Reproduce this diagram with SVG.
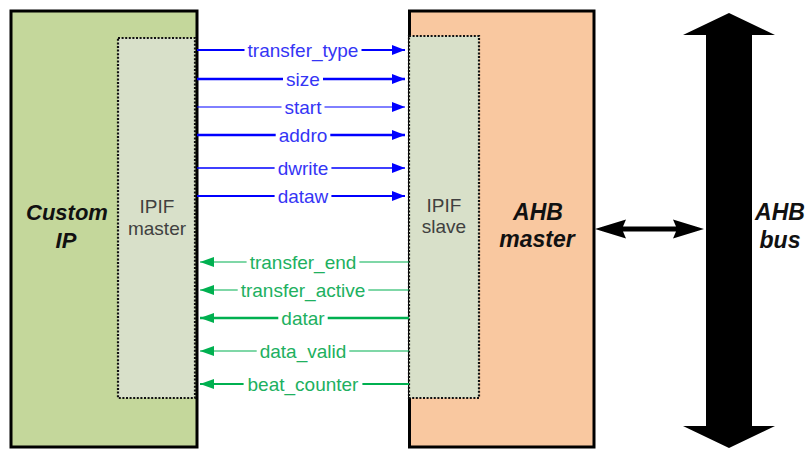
<svg xmlns="http://www.w3.org/2000/svg" width="806" height="449" viewBox="0 0 806 449">
<defs>
<style>
.box{stroke:#000;stroke-width:3}
.inner{fill:#d8e0c9;stroke:#111;stroke-width:2.2;stroke-dasharray:2 1.6}
.title{font-family:"Liberation Sans",Arial,sans-serif;font-weight:bold;font-style:italic;font-size:22px;fill:#111;text-anchor:middle}
.sub{font-family:"Liberation Sans",Arial,sans-serif;font-size:19px;fill:#404040;text-anchor:middle}
.lbl{font-family:"Liberation Sans",Arial,sans-serif;font-size:19px;text-anchor:middle}
.b{stroke:#0000ff;fill:none}
.g{stroke:#00b050;fill:none}
.bt{fill:#3535f5}
.gt{fill:#20b060}
</style>
<marker id="ab" markerUnits="userSpaceOnUse" markerWidth="14" markerHeight="11" refX="13" refY="5" orient="auto"><path d="M0,0 L13,5 L0,10 z" fill="#0000ff"/></marker>
<marker id="ag" markerUnits="userSpaceOnUse" markerWidth="15" markerHeight="11" refX="14" refY="5" orient="auto"><path d="M0,0 L14,5 L0,10 z" fill="#00b050"/></marker>
</defs>
<rect width="806" height="449" fill="#fff"/>

<g id="custom-ip">
<rect class="box" x="11" y="11" width="186" height="436" fill="#c4d79b"/>
<text class="title" x="67" y="220">Custom</text>
<text class="title" x="66" y="248">IP</text>
</g>
<g id="ipif-master">
<rect class="inner" x="118" y="38" width="77" height="360"/>
<text class="sub" x="157" y="213">IPIF</text>
<text class="sub" x="157" y="235">master</text>
</g>
<g id="ahb-master">
<rect class="box" x="409.5" y="11" width="184.5" height="436" fill="#f9c8a0"/>
<text class="title" x="538" y="220" style="font-size:23px">AHB</text>
<text class="title" x="537" y="247" style="font-size:23px">master</text>
</g>
<g id="ipif-slave">
<rect class="inner" x="409" y="36" width="70" height="362"/>
<text class="sub" x="444" y="212">IPIF</text>
<text class="sub" x="444" y="233">slave</text>
</g>
<g id="ahb-bus">
<polygon points="729,13 775,35 752,35 752,426 775,426 729,448 683,426 706,426 706,35 683,35" fill="#000"/>
<text class="title" x="780" y="220" style="font-size:23px">AHB</text>
<text class="title" x="780" y="248" style="font-size:23px">bus</text>
</g>

<g id="connectors">
<path class="b" stroke-width="2" d="M197,50 H244.5 M361.5,50 H405" marker-end="url(#ab)"/>
<path class="b" stroke-width="2.6" d="M197,79 H283 M323,79 H405" marker-end="url(#ab)"/>
<path class="b" stroke-width="1" d="M197,107 H281.5 M324.5,107 H405" marker-end="url(#ab)"/>
<path class="b" stroke-width="2.6" d="M197,135 H275.7 M330.3,135 H405" marker-end="url(#ab)"/>
<path class="b" stroke-width="1.6" d="M197,168 H274.6 M331.4,168 H405" marker-end="url(#ab)"/>
<path class="b" stroke-width="2" d="M197,196 H274.6 M331.4,196 H405" marker-end="url(#ab)"/>

<path class="g" stroke-width="1.2" d="M409,262 H359.4 M246.6,262 H200" marker-end="url(#ag)"/>
<path class="g" stroke-width="1.2" d="M409,290 H368.3 M237.7,290 H200" marker-end="url(#ag)"/>
<path class="g" stroke-width="2.6" d="M409,318 H327.7 M278.3,318 H200" marker-end="url(#ag)"/>
<path class="g" stroke-width="1.2" d="M409,351 H349.3 M256.7,351 H200" marker-end="url(#ag)"/>
<path class="g" stroke-width="2" d="M409,384 H362.4 M243.6,384 H200" marker-end="url(#ag)"/>

<text class="lbl bt" x="303" y="57">transfer_type</text>
<text class="lbl bt" x="303" y="86">size</text>
<text class="lbl bt" x="303" y="114">start</text>
<text class="lbl bt" x="303" y="142">addro</text>
<text class="lbl bt" x="303" y="175">dwrite</text>
<text class="lbl bt" x="303" y="203">dataw</text>

<text class="lbl gt" x="303" y="269">transfer_end</text>
<text class="lbl gt" x="303" y="297">transfer_active</text>
<text class="lbl gt" x="303" y="325">datar</text>
<text class="lbl gt" x="303" y="358">data_valid</text>
<text class="lbl gt" x="303" y="391">beat_counter</text>

<polygon id="ahb-link" points="595,229 626,219.5 623,226.5 676,226.5 673,219.5 704,229 673,238.5 676,231.5 623,231.5 626,238.5" fill="#000"/>
</g>
</svg>
